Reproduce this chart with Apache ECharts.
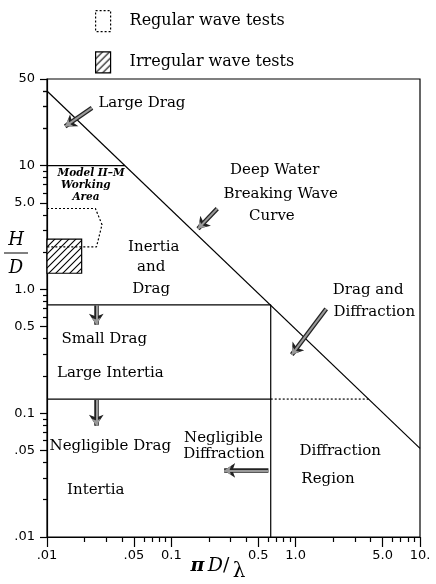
<!DOCTYPE html>
<html>
<head>
<meta charset="utf-8">
<script src="https://cdn.jsdelivr.net/npm/echarts@6/dist/echarts.min.js"></script>
<style>
  html, body { margin: 0; padding: 0; background: #fff; }
  #chart { width: 436px; height: 584px; }
</style>
</head>
<body>
<div id="chart"></div>
<script>
// ---- axis ticks -------------------------------------------------------
const xMajor = [0.01, 0.05, 0.1, 0.5, 1, 5, 10];
const xMajorLabels = ['.01', '.05', '0.1', '0.5', '1.0', '5.0', '10.'];
const yMajor = [0.01, 0.05, 0.1, 0.5, 1, 5, 10, 50];
const yMajorLabels = ['.01', '.05', '0.1', '0.5', '1.0', '5.0', '10', '50'];
const decadeStarts = [0.01, 0.1, 1, 10];
const minorMultipliers = [2, 3, 4, 6, 7, 8, 9];
const xRange = [0.01, 10];
const yRange = [0.01, 50];

// ---- regime boundaries (pi D / lambda , H / D) ------------------------
const breakingCurve = [[0.01, 40], [10, 0.052]];   // deep water breaking wave curve
const largeDragLevel = 10;                          // H/D = 10
const smallDragLevel = 0.75;                        // H/D = 0.75
const negligibleDragLevel = 0.13;                   // H/D = 0.13
const diffractionLimit = 0.63;                      // pi D / lambda = 0.63

// ---- test ranges ------------------------------------------------------
const regularTests = [[0.01, 4.5], [0.0245, 4.5], [0.0277, 3.33], [0.025, 2.2], [0.01, 2.2]];
const irregularTests = [[0.01, 2.55], [0.019, 1.35]];

// ---- region notes: [x, y, text] --------------------------------------
const notes = [
  [0.058, 32.0, 'Large Drag'],
  [0.678, 9.27, 'Deep Water'],
  [0.757, 5.93, 'Breaking Wave'],
  [0.644, 3.89, 'Curve'],
  [0.0722, 2.20, 'Inertia'],
  [0.0689, 1.50, 'and'],
  [0.0689, 1.01, 'Drag'],
  [0.0289, 0.397, 'Small Drag'],
  [0.0323, 0.211, 'Large Intertia'],
  [0.0323, 0.0546, 'Negligible Drag'],
  [0.0247, 0.0238, 'Intertia'],
  [0.263, 0.0631, 'Negligible'],
  [0.265, 0.0468, 'Diffraction'],
  [2.28, 0.0498, 'Diffraction'],
  [1.82, 0.0294, 'Region'],
  [3.83, 0.982, 'Drag and'],
  [4.29, 0.657, 'Diffraction']
];
const modelNotes = [
  [0.0226, 8.61, 'Model II\u2013M'],
  [0.0205, 6.88, 'Working'],
  [0.0206, 5.57, 'Area']
];

// ---- pointer arrows: [from, to] ---------------------------------------
const arrows = [
  [[0.0230, 29.2], [0.0140, 20.7]],
  [[0.234, 4.49], [0.164, 3.09]],
  [[1.76, 0.695], [0.931, 0.297]],
  [[0.0249, 0.74], [0.0249, 0.519]],
  [[0.0249, 0.128], [0.0249, 0.0793]],
  [[0.604, 0.0345], [0.266, 0.0345]]
];

// ----------------------------------------------------------------------
function minorTicks(range) {
  const out = [];
  decadeStarts.forEach(d => minorMultipliers.forEach(m => {
    const v = +(d * m).toPrecision(6);
    if (v > range[0] && v < range[1]) out.push(v);
  }));
  return out;
}

// x position where the breaking curve reaches a given H/D (log interpolation)
function breakingX(h) {
  const [p0, p1] = breakingCurve;
  const t = (Math.log10(h) - Math.log10(p0[1])) / (Math.log10(p1[1]) - Math.log10(p0[1]));
  return Math.pow(10, Math.log10(p0[0]) + t * (Math.log10(p1[0]) - Math.log10(p0[0])));
}

function labelFor(values, labels) {
  return v => {
    for (let i = 0; i < values.length; i++) {
      if (Math.abs(Math.log10(v) - Math.log10(values[i])) < 1e-6) return labels[i];
    }
    return '';
  };
}

// diagonal hatch fill
const hatchCanvas = document.createElement('canvas');
hatchCanvas.width = 7; hatchCanvas.height = 7;
(function () {
  const c = hatchCanvas.getContext('2d');
  c.fillStyle = '#fff'; c.fillRect(0, 0, 7, 7);
  c.strokeStyle = '#000'; c.lineWidth = 1.1;
  c.beginPath();
  c.moveTo(0, 7); c.lineTo(7, 0);
  c.moveTo(-1, 1); c.lineTo(1, -1);
  c.moveTo(6, 8); c.lineTo(8, 6);
  c.stroke();
})();
const hatch = { image: hatchCanvas, repeat: 'repeat' };

const serif = 'DejaVu Serif';
const sans = 'DejaVu Sans';

function segment(data, dotted) {
  return {
    type: 'line', data: data, symbol: 'none', silent: true, z: 3,
    lineStyle: { color: '#000', width: 1.2, type: dotted ? [2, 2] : 'solid' }
  };
}

const chart = echarts.init(document.getElementById('chart'), null, { renderer: 'canvas' });

const xTickAxis = {
  type: 'log', logBase: 10, min: xRange[0], max: xRange[1], position: 'bottom',
  axisLine: { show: false }, axisLabel: { show: false }, splitLine: { show: false },
  axisTick: { customValues: minorTicks(xRange), length: 5, lineStyle: { color: '#000', width: 1.2 } }
};
const yTickAxis = {
  type: 'log', logBase: 10, min: yRange[0], max: yRange[1], position: 'left',
  axisLine: { show: false }, axisLabel: { show: false }, splitLine: { show: false },
  axisTick: { customValues: minorTicks(yRange).concat([20, 30, 40]), length: 4, lineStyle: { color: '#000', width: 1.2 } }
};

const noteLabel = {
  show: true, position: 'inside', formatter: p => p.value[2],
  fontFamily: serif, fontSize: 15, color: '#000', textBorderWidth: 0, opacity: 1
};

const option = {
  animation: false,
  backgroundColor: '#fff',
  grid: {
    left: 47, right: 16, top: 79, bottom: 47,
    containLabel: false, outerBoundsMode: 'none',
    show: true, borderColor: '#000', borderWidth: 1.2, backgroundColor: 'transparent'
  },
  legend: {
    orient: 'vertical', left: 95, top: 10, padding: 0,
    itemWidth: 15, itemHeight: 21, itemGap: 19,
    selectedMode: false,
    textStyle: { fontFamily: serif, fontSize: 16, color: '#000', padding: [0, 0, 0, 14] },
    data: [
      { name: 'Regular wave tests', icon: 'rect',
        itemStyle: { color: '#fff', borderColor: '#000', borderWidth: 1.2, borderType: [2, 2] } },
      { name: 'Irregular wave tests', icon: 'rect',
        itemStyle: { color: hatch, borderColor: '#000', borderWidth: 1.2 } }
    ]
  },
  xAxis: [
    {
      type: 'log', logBase: 10, min: xRange[0], max: xRange[1], position: 'bottom',
      axisLine: { lineStyle: { color: '#000', width: 1.2 } },
      axisTick: { customValues: xMajor, length: 10, lineStyle: { color: '#000', width: 1.2 } },
      axisLabel: { customValues: xMajor, formatter: labelFor(xMajor, xMajorLabels),
        margin: 12, color: '#000', fontFamily: sans, fontSize: 13 },
      splitLine: { show: false },
      name: '{p|\u03c0} {d|D}{s|/} {l|\u03bb}',
      nameLocation: 'middle', nameGap: 20, nameMoveOverlap: false,
      nameTextStyle: {
        padding: [0, 31, 0, 0],
        rich: {
          p: { fontFamily: serif, fontStyle: 'italic', fontWeight: 'bold', fontSize: 19, color: '#000', lineHeight: 18, verticalAlign: 'top' },
          d: { fontFamily: serif, fontStyle: 'italic', fontSize: 19, color: '#000', lineHeight: 18, verticalAlign: 'top' },
          s: { fontFamily: serif, fontSize: 19, color: '#000', lineHeight: 22, verticalAlign: 'top' },
          l: { fontFamily: serif, fontSize: 20, color: '#000', lineHeight: 30 }
        }
      }
    },
    xTickAxis
  ],
  yAxis: [
    {
      type: 'log', logBase: 10, min: yRange[0], max: yRange[1], position: 'left',
      axisLine: { lineStyle: { color: '#000', width: 1.2 } },
      axisTick: { customValues: yMajor, length: 7, lineStyle: { color: '#000', width: 1.2 } },
      axisLabel: { customValues: yMajor, formatter: labelFor(yMajor, yMajorLabels),
        margin: 12, color: '#000', fontFamily: sans, fontSize: 13 },
      splitLine: { show: false },
      name: '{h|H}\n{bar|}\n{d|D}',
      nameLocation: 'middle', nameRotate: 0, nameGap: 19, nameMoveOverlap: false,
      nameTextStyle: {
        padding: [0, 0, 106, 0],
        rich: {
          h: { fontFamily: serif, fontStyle: 'italic', fontSize: 18, color: '#000', lineHeight: 22, align: 'center' },
          bar: { width: 24, height: 1, backgroundColor: '#000', lineHeight: 4, align: 'center' },
          d: { fontFamily: serif, fontStyle: 'italic', fontSize: 18, color: '#000', lineHeight: 26, align: 'center' }
        }
      }
    },
    yTickAxis
  ],
  series: [
    segment(breakingCurve),
    segment([[xRange[0], largeDragLevel], [breakingX(largeDragLevel), largeDragLevel]]),
    segment([[xRange[0], smallDragLevel], [diffractionLimit, smallDragLevel]]),
    segment([[diffractionLimit, smallDragLevel], [diffractionLimit, yRange[0]]]),
    segment([[xRange[0], negligibleDragLevel], [diffractionLimit, negligibleDragLevel]]),
    segment([[diffractionLimit, negligibleDragLevel], [breakingX(negligibleDragLevel), negligibleDragLevel]], true),
    {
      name: 'Regular wave tests', type: 'line', data: regularTests, symbol: 'none', silent: true, z: 3,
      lineStyle: { color: '#000', width: 1.2, type: [2, 2] }
    },
    {
      name: 'Irregular wave tests', type: 'line', data: [], symbol: 'none', silent: true,
      itemStyle: { color: '#000' },
      markArea: {
        silent: true,
        itemStyle: { color: hatch, borderColor: '#000', borderWidth: 1.2, opacity: 1 },
        data: [[{ coord: irregularTests[0] }, { coord: irregularTests[1] }]]
      }
    },
    {
      type: 'lines', coordinateSystem: 'cartesian2d', silent: true, z: 4,
      symbol: ['none', 'arrow'], symbolSize: 11,
      lineStyle: { color: '#222', width: 4.5, opacity: 1 },
      data: arrows.map(a => ({ coords: a }))
    },
    {
      type: 'lines', coordinateSystem: 'cartesian2d', silent: true, z: 5,
      symbol: ['none', 'arrow'], symbolSize: 7,
      lineStyle: { color: '#999', width: 2, opacity: 1 },
      data: arrows.map(a => ({ coords: a }))
    },
    {
      type: 'scatter', silent: true, z: 6, symbolSize: 1,
      itemStyle: { color: 'transparent' },
      label: noteLabel,
      data: notes
    },
    {
      type: 'scatter', silent: true, z: 6, symbolSize: 1,
      itemStyle: { color: 'transparent' },
      label: Object.assign({}, noteLabel, { fontSize: 10.5, fontStyle: 'italic', fontWeight: 'bold' }),
      data: modelNotes
    }
  ]
};

chart.setOption(option);
</script>
</body>
</html>
